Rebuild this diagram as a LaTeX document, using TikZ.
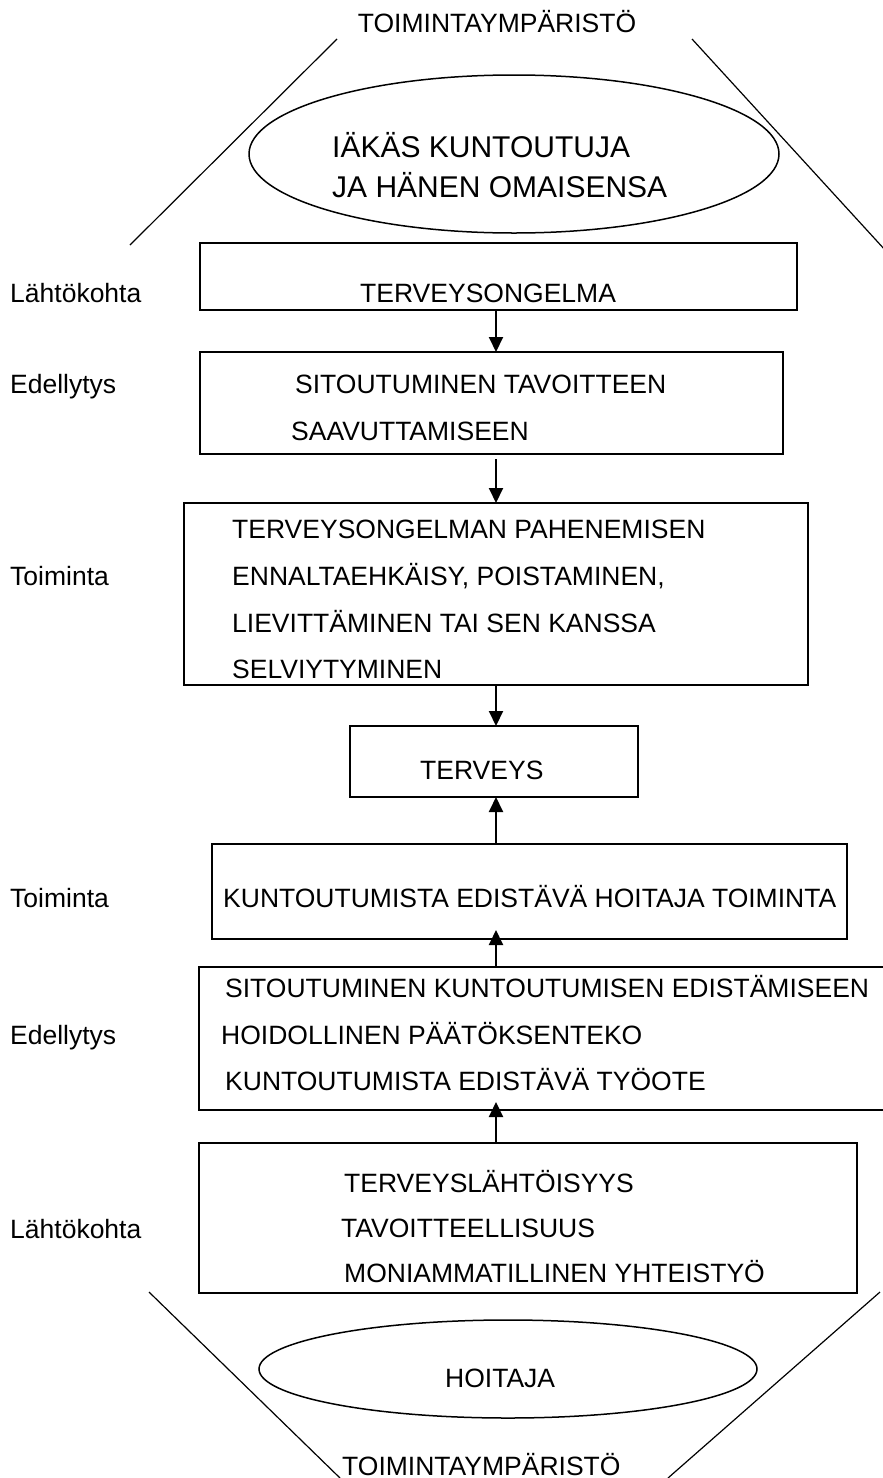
\documentclass[tikz,border=0pt]{standalone}
\usepackage{fontspec}
\setmainfont{Liberation Sans}
\usetikzlibrary{shapes.geometric,arrows.meta}
\begin{document}
\begin{tikzpicture}[x=1pt,y=-1pt,
  box/.style={draw, line width=2pt, rectangle, inner sep=0pt, outer sep=0pt},
  oval/.style={draw, line width=1.5pt, ellipse, inner sep=0pt, outer sep=0pt},
  txt/.style={anchor=base west, inner sep=0pt, font=\fontsize{26.5pt}{30pt}\selectfont},
  big/.style={anchor=base west, inner sep=0pt, font=\fontsize{30pt}{34pt}\selectfont},
  frameline/.style={line width=1.2pt},
  arr/.style={line width=2pt, -{Triangle[width=14pt,length=15pt]}}]
\useasboundingbox (0,0) rectangle (883,1478);
\fill[white] (0,0) rectangle (883,1478);
\clip (0,0) rectangle (883,1478);

% environment lines
\coordinate (tl1) at (337,39); \coordinate (tl2) at (130,245);
\coordinate (tr1) at (692,39); \coordinate (tr2) at (886,251);
\coordinate (bl1) at (149,1292); \coordinate (bl2) at (340,1478);
\coordinate (br1) at (880,1292); \coordinate (br2) at (668,1478);
\draw[frameline] (tl1) -- (tl2);
\draw[frameline] (tr1) -- (tr2);
\draw[frameline] (bl1) -- (bl2);
\draw[frameline] (br1) -- (br2);

\node[txt,anchor=base] (ttop) at (497,32) {TOIMINTAYMPÄRISTÖ};
\node[txt] (tbot) at (342,1475) {TOIMINTAYMPÄRISTÖ};

% ellipses
\node[oval, minimum width=530pt, minimum height=158pt] (e1) at (514,154) {};
\node[big] (e1a) at (332,157) {IÄKÄS KUNTOUTUJA};
\node[big] (e1b) at (332,197) {JA HÄNEN OMAISENSA};

\node[oval, minimum width=498pt, minimum height=98pt] (e2) at (508,1369) {};
\node[txt] (e2a) at (445,1387) {HOITAJA};

% boxes
\node[box, minimum width=597pt, minimum height=67pt] (b1) at (498.5,276.5) {};
\node[box, minimum width=583pt, minimum height=102pt] (b2) at (491.5,403) {};
\node[box, minimum width=624pt, minimum height=182pt] (b3) at (496,594) {};
\node[box, minimum width=288pt, minimum height=71pt] (b4) at (494,761.5) {};
\node[box, minimum width=635pt, minimum height=95pt] (b5) at (529.5,891.5) {};
\node[box, minimum width=691pt, minimum height=143pt] (b6) at (544.5,1038.5) {};
\node[box, minimum width=658pt, minimum height=150pt] (b7) at (528,1218) {};

% box texts
\node[txt] (b1a) at (360,302) {TERVEYSONGELMA};
\node[txt] (b2a) at (295,393) {SITOUTUMINEN TAVOITTEEN};
\node[txt] (b2b) at (291,440) {SAAVUTTAMISEEN};
\node[txt] (b3a) at (232,538) {TERVEYSONGELMAN PAHENEMISEN};
\node[txt] (b3b) at (232,585) {ENNALTAEHKÄISY, POISTAMINEN,};
\node[txt] (b3c) at (232,632) {LIEVITTÄMINEN TAI SEN KANSSA};
\node[txt] (b3d) at (232,678) {SELVIYTYMINEN};
\node[txt] (b4a) at (420,779) {TERVEYS};
\node[txt] (b5a) at (223,907) {KUNTOUTUMISTA EDISTÄVÄ HOITAJA TOIMINTA};
\node[txt] (b6a) at (225,997) {SITOUTUMINEN KUNTOUTUMISEN EDISTÄMISEEN};
\node[txt] (b6b) at (221,1044) {HOIDOLLINEN PÄÄTÖKSENTEKO};
\node[txt] (b6c) at (225,1090) {KUNTOUTUMISTA EDISTÄVÄ TYÖOTE};
\node[txt] (b7a) at (344,1192) {TERVEYSLÄHTÖISYYS};
\node[txt] (b7b) at (341,1237) {TAVOITTEELLISUUS};
\node[txt] (b7c) at (344,1282) {MONIAMMATILLINEN YHTEISTYÖ};

% side labels
\node[txt] (l1) at (10,302) {Lähtökohta};
\node[txt] (l2) at (10,393) {Edellytys};
\node[txt] (l3) at (10,585) {Toiminta};
\node[txt] (l4) at (10,907) {Toiminta};
\node[txt] (l5) at (10,1044) {Edellytys};
\node[txt] (l6) at (10,1238) {Lähtökohta};

% arrows
\coordinate (ax) at (496,0);
\coordinate (s2) at ([yshift=-5pt]b2.south);
\coordinate (t5) at ([yshift=9pt]b5.south);
\coordinate (t6) at ([yshift=8pt]b6.south);
\draw[arr] (ax |- b1.south) -- (ax |- b2.north);
\draw[arr] (ax |- s2) -- (ax |- b3.north);
\draw[arr] (ax |- b3.south) -- (ax |- b4.north);
\draw[arr] (ax |- b5.north) -- (ax |- b4.south);
\draw[arr] (ax |- b6.north) -- (ax |- t5);
\draw[arr] (ax |- b7.north) -- (ax |- t6);
\end{tikzpicture}
\end{document}
